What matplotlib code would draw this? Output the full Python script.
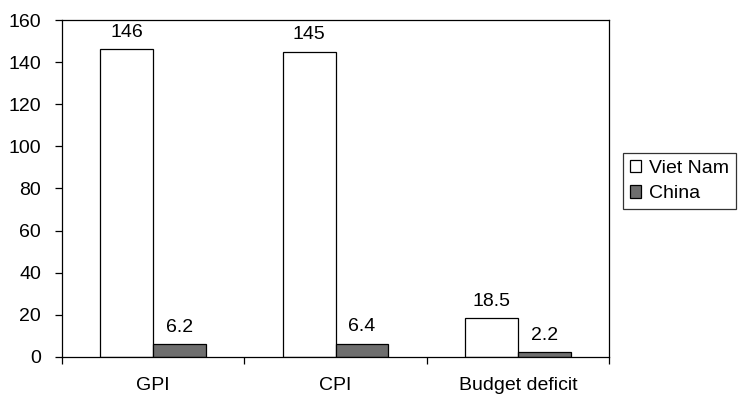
import numpy as np
import matplotlib.pyplot as plt

plt.rcParams['font.family'] = ['Liberation Sans', 'DejaVu Sans']

categories = ['GPI', 'CPI', 'Budget deficit']
viet_nam = [146, 145, 18.5]
china = [6.2, 6.4, 2.2]
viet_labels = ['146', '145', '18.5']
china_labels = ['6.2', '6.4', '2.2']

fs = 14

fig = plt.figure(figsize=(7.39, 3.97), dpi=100)
ax = fig.add_axes([0.0839, 0.1008, 0.7402, 0.8488])

x = np.arange(len(categories))
w = 0.29
b1 = ax.bar(x - w / 2, viet_nam, w, color='white', edgecolor='black', linewidth=0.9, label='Viet Nam')
b2 = ax.bar(x + w / 2, china, w, color='#6e6e6e', edgecolor='black', linewidth=0.9, label='China')

for rect, txt in zip(b1, viet_labels):
    ax.text(rect.get_x() + rect.get_width() / 2, rect.get_height() + 4, txt,
            ha='center', va='bottom', fontsize=fs)
for rect, txt in zip(b2, china_labels):
    ax.text(rect.get_x() + rect.get_width() / 2, rect.get_height() + 4, txt,
            ha='center', va='bottom', fontsize=fs)

ax.set_xlim(-0.5, 2.5)
ax.set_ylim(0, 160)
ax.set_yticks(range(0, 161, 20))
ax.tick_params(axis='y', labelsize=fs, length=5, width=0.9, direction='out', pad=10)

# category labels centred, tick marks at the boundaries
ax.set_xticks(x)
ax.set_xticklabels(categories, fontsize=fs)
ax.tick_params(axis='x', which='major', length=0, pad=14.5)
ax.set_xticks(np.arange(-0.5, 3, 1), minor=True)
ax.tick_params(axis='x', which='minor', length=5, width=0.9, direction='out')

for s in ax.spines.values():
    s.set_linewidth(0.9)

leg = fig.legend(handles=[b1, b2], loc='upper left', bbox_to_anchor=(0.843, 0.615),
                 fontsize=fs, frameon=True, fancybox=False, edgecolor='black',
                 handlelength=0.6, handleheight=0.6, handletextpad=0.4,
                 borderpad=0.35, labelspacing=0.45, borderaxespad=0)
leg.get_frame().set_linewidth(0.9)

fig.savefig('out.png', dpi=100)
